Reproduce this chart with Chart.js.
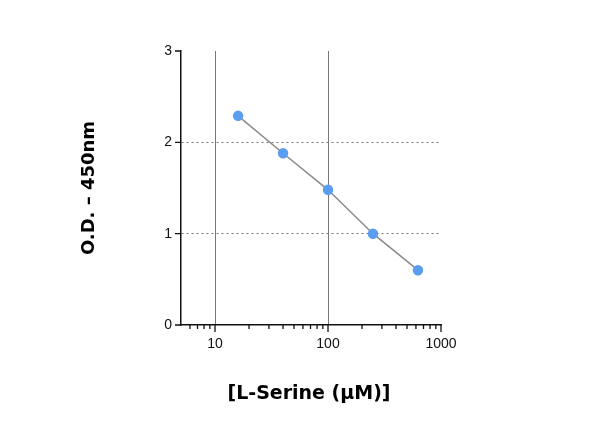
<!DOCTYPE html>
<html><head><meta charset="utf-8">
<script src="https://cdn.jsdelivr.net/npm/chart.js@4"></script>
<style>html,body{margin:0;padding:0;background:#fff}#w{width:600px;height:423px}</style>
</head><body><div id="w"><canvas id="c"></canvas></div>
<script>
const concentrations = [16, 40, 100, 250, 625];
const odValues = [2.29, 1.88, 1.48, 1.0, 0.6];
const xMajorTicks = [10, 100, 1000];
const xMinorTicks = [6,7,8,9,20,30,40,50,60,70,80,90,200,300,400,500,600,700,800,900];
const yTicks = [0, 1, 2, 3];
const xTitle = '[L-Serine (µM)]';
const yTitle = 'O.D. – 450nm';

const tickPlugin = {
  id: 'ticks',
  afterDraw(chart) {
    const ctx = chart.ctx, x = chart.scales.x, y = chart.scales.y, a = chart.chartArea;
    ctx.save();
    ctx.strokeStyle = '#111'; ctx.lineWidth = 1.3;
    ctx.beginPath();
    xMajorTicks.forEach(v => { const p = x.getPixelForValue(v); ctx.moveTo(p, a.bottom); ctx.lineTo(p, a.bottom + 7); });
    xMinorTicks.forEach(v => { const p = x.getPixelForValue(v); ctx.moveTo(p, a.bottom); ctx.lineTo(p, a.bottom + 4); });
    yTicks.forEach(v => { const p = y.getPixelForValue(v); ctx.moveTo(a.left, p); ctx.lineTo(a.left - 6, p); });
    ctx.stroke();
    ctx.fillStyle = '#000';
    ctx.font = 'bold 19px "DejaVu Sans"';
    ctx.textAlign = 'center'; ctx.textBaseline = 'middle';
    ctx.fillText(xTitle, (a.left + a.right) / 2 - 2, 394);
    ctx.translate(89, (a.top + a.bottom) / 2);
    ctx.rotate(-Math.PI / 2);
    ctx.font = 'bold 18px "DejaVu Sans"';
    ctx.fillText(yTitle, 0, 0);
    ctx.restore();
  }
};

new Chart(document.getElementById('c'), {
  type: 'line',
  data: { datasets: [{
    data: concentrations.map((c, i) => ({x: c, y: odValues[i]})),
    borderColor: '#8a8a8a', borderWidth: 1.5,
    pointBackgroundColor: '#5b9ef0', pointBorderColor: '#5b9ef0', pointRadius: 4.5,
    tension: 0
  }]},
  plugins: [tickPlugin],
  options: {
    responsive: true, maintainAspectRatio: false, animation: false,
    layout: { padding: { left: 121, right: 159, top: 51, bottom: 58 } },
    plugins: { legend: { display: false }, tooltip: { enabled: false } },
    scales: {
      x: {
        type: 'logarithmic', min: 5, max: 1000,
        afterFit: s => { s.height = 40; },
        afterBuildTicks: s => { s.ticks = xMajorTicks.map(v => ({value: v})); },
        ticks: { autoSkip: false, maxRotation: 0, padding: 11, color: '#111', font: { size: 14, family: 'Liberation Sans' },
          callback: v => String(v) },
        grid: { drawTicks: false, color: c => (c.tick && c.tick.value < 1000) ? '#777' : 'transparent', lineWidth: 1 },
        border: { color: '#111', width: 1.5 }
      },
      y: {
        min: 0, max: 3,
        afterFit: s => { s.width = 60; },
        afterBuildTicks: s => { s.ticks = yTicks.map(v => ({value: v})); },
        ticks: { padding: 9, color: '#111', font: { size: 14, family: 'Liberation Sans' } },
        grid: { drawTicks: false, color: c => (c.tick && c.tick.value > 0 && c.tick.value < 3) ? '#777' : 'transparent', lineWidth: 1 },
        border: { color: '#111', width: 1.5, dash: [2,3] }
      }
    }
  }
});
</script></body></html>
